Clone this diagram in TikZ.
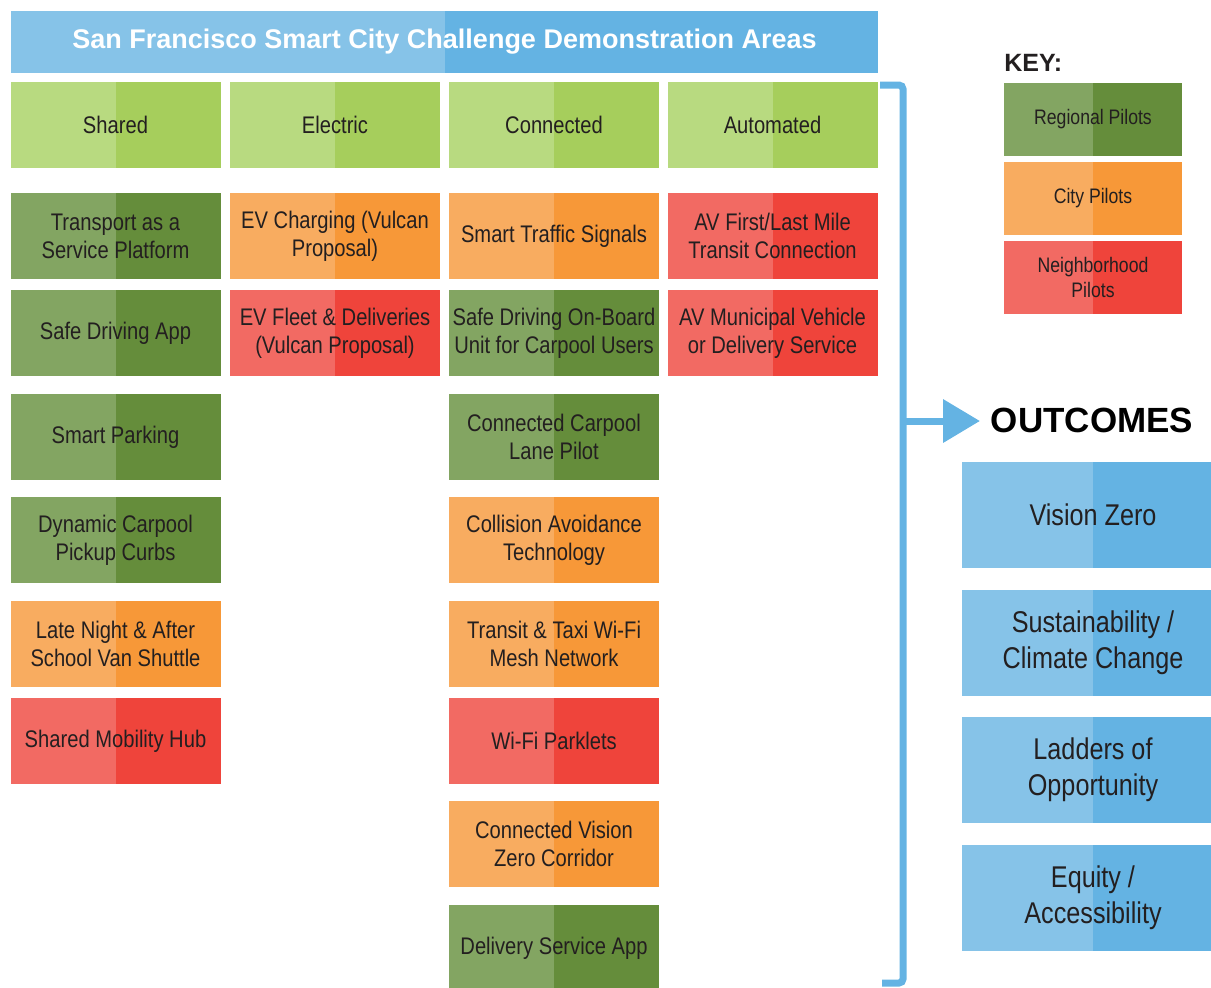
\documentclass[tikz,border=0pt]{standalone}
\usepackage{fontspec}
\setmainfont{Liberation Sans}
\newfontfamily\condfont[FakeStretch=0.84]{Liberation Sans}
\usetikzlibrary{arrows.meta,positioning}

\definecolor{lgreenL}{HTML}{B8DA80}
\definecolor{lgreenR}{HTML}{A6CE5C}
\definecolor{dgreenL}{HTML}{83A562}
\definecolor{dgreenR}{HTML}{658D3B}
\definecolor{orangeL}{HTML}{F8AC60}
\definecolor{orangeR}{HTML}{F79838}
\definecolor{redL}{HTML}{F26A63}
\definecolor{redR}{HTML}{EF443B}
\definecolor{blueL}{HTML}{86C3E8}
\definecolor{blueR}{HTML}{64B3E3}
\definecolor{ink}{HTML}{231F20}

\tikzset{
  tile/.style 2 args={draw=none, fill=#2, text=ink, align=center, inner sep=0pt,
    path picture={\fill[#1] (path picture bounding box.south west) rectangle (path picture bounding box.north);}},
  cell/.style={minimum width=105pt, minimum height=43pt, font=\condfont\fontsize{12}{14}\selectfont},
  header/.style={cell, tile={lgreenL}{lgreenR}},
  regional/.style={cell, tile={dgreenL}{dgreenR}},
  city/.style={cell, tile={orangeL}{orangeR}},
  hood/.style={cell, tile={redL}{redR}},
  keybox/.style={minimum width=89pt, minimum height=36.5pt, font=\condfont\fontsize{10.5}{12.5}\selectfont},
  outcome/.style={tile={blueL}{blueR}, minimum width=131pt, minimum height=53pt, font=\condfont\fontsize{15}{18}\selectfont},
  bracket/.style={draw=blueR, line width=3.5pt},
}

\begin{document}
\begin{tikzpicture}[x=0.5pt, y=-0.5pt]
    \useasboundingbox (0,0) rectangle (1211,987);

    % Title bar
    \node[tile={blueL}{blueR}, minimum width=433.5pt, minimum height=31pt, text=white,
          font=\bfseries\fontsize{13.5}{16}\selectfont] (title) at (444.5,42)
        {San Francisco Smart City Challenge Demonstration Areas};

    % Column headers
    \foreach \name/\txt/\x in {shared/Shared/115.5, electric/Electric/335,
                               connected/Connected/554, automated/Automated/772.5} {
        \node[header] (\name) at (\x,124.5) {\txt};
    }

    % Shared
    \node[regional] (taas)    at (115.5,236) {Transport as a\\Service Platform};
    \node[regional] (safeapp) at (115.5,333) {Safe Driving App};
    \node[regional] (parking) at (115.5,437) {Smart Parking};
    \node[regional] (curbs)   at (115.5,540) {Dynamic Carpool\\Pickup Curbs};
    \node[city]     (shuttle) at (115.5,644) {Late Night \& After\\School Van Shuttle};
    \node[hood]     (hub)     at (115.5,741) {Shared Mobility Hub};

    % Electric
    \node[city] (evcharge) at (335,236) {EV Charging (Vulcan\\Proposal)};
    \node[hood] (evfleet)  at (335,333) {EV Fleet \& Deliveries\\(Vulcan Proposal)};

    % Connected
    \node[city]     (signals)   at (554,236) {Smart Traffic Signals};
    \node[regional] (onboard)   at (554,333) {Safe Driving On-Board\\Unit for Carpool Users};
    \node[regional] (lane)      at (554,437) {Connected Carpool\\Lane Pilot};
    \node[city]     (collision) at (554,540) {Collision Avoidance\\Technology};
    \node[city]     (mesh)      at (554,644) {Transit \& Taxi Wi-Fi\\Mesh Network};
    \node[hood]     (parklets)  at (554,741) {Wi-Fi Parklets};
    \node[city]     (corridor)  at (554,844) {Connected Vision\\Zero Corridor};
    \node[regional] (delivery)  at (554,948) {Delivery Service App};

    % Automated
    \node[hood] (avfirst) at (772.5,236) {AV First/Last Mile\\Transit Connection};
    \node[hood] (avmuni)  at (772.5,333) {AV Municipal Vehicle\\or Delivery Service};

    % Key
    \node[anchor=base west, inner sep=0pt, text=ink, font=\bfseries\fontsize{12.5}{15}\selectfont]
        (key) at (1004,71) {KEY:};
    \node[keybox, tile={dgreenL}{dgreenR}] (kregional) at (1093,119.5) {Regional Pilots};
    \node[keybox, tile={orangeL}{orangeR}] (kcity)     at (1093,198.5) {City Pilots};
    \node[keybox, tile={redL}{redR}]       (khood)     at (1093,277.5) {Neighborhood\\Pilots};

    % Bracket and arrow
    \draw[bracket, rounded corners=2pt] (880,85) -- (903,85) -- (903,983) -- (882,983);
    \coordinate (brk) at (903,421);
    \coordinate (arrtip) at (980,421);
    \draw[bracket, -{Triangle[length=18.5pt, width=21pt]}] (brk) -- (arrtip);

    % Outcomes
    \node[inner sep=0pt, font=\bfseries\fontsize{17.5}{21}\selectfont] (outcomes)
        at (1092,420) {OUTCOMES};
    \node[outcome] (vision)  at (1093,515)   {Vision Zero};
    \node[outcome] (climate) at (1093,643)   {Sustainability /\\Climate Change};
    \node[outcome] (ladders) at (1093,770)   {Ladders of\\Opportunity};
    \node[outcome] (equity)  at (1093,897.5) {Equity /\\Accessibility};
\end{tikzpicture}
\end{document}
